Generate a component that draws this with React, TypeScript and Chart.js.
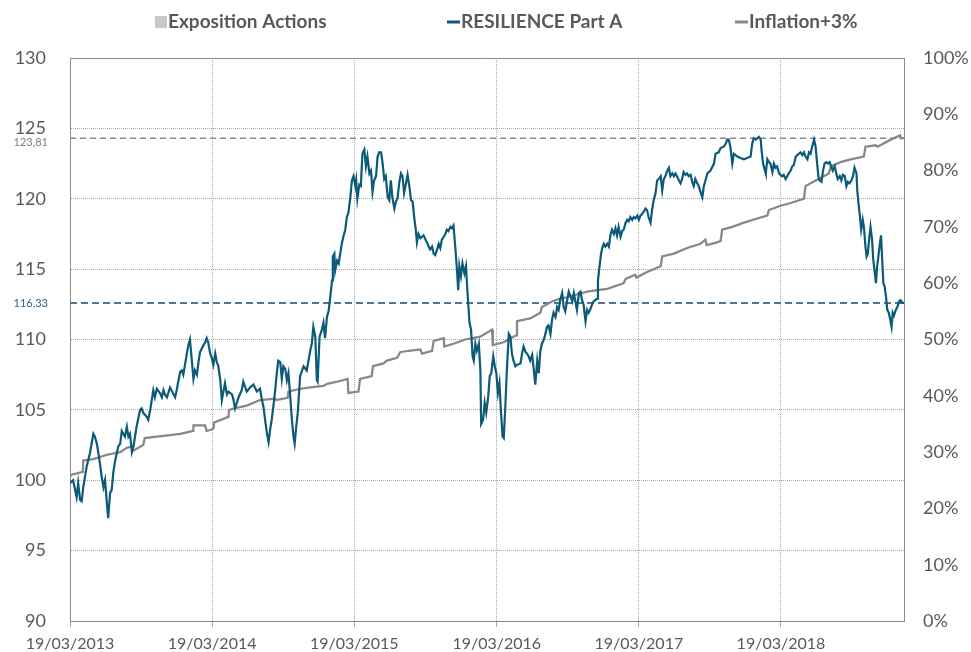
import { useEffect, useRef } from "react";
import { Chart, registerables } from "chart.js";

Chart.register(...registerables);

// x values are days since 19/03/2013
const tickDays = [0, 365, 730, 1096, 1461, 1826];
const tickLabels = ["19/03/2013", "19/03/2014", "19/03/2015", "19/03/2016", "19/03/2017", "19/03/2018"];

const seriesLabels = ["Exposition Actions", "RESILIENCE Part A", "Inflation+3%"];
const refLabels = ["123,81", "116,33"];

const expositionPoints: [number, number][] = [];

const resiliencePoints: [number, number][] = [
  [0, 99.8], [8, 100.0], [17, 98.8], [21, 99.8], [26, 98.6], [30, 98.5], [34, 99.5], [43, 101.0],
  [51, 101.9], [60, 103.3], [64, 103.1], [69, 102.6], [77, 101.2], [81, 100.3], [86, 99.5], [90, 100.0],
  [94, 98.6], [98, 97.3], [103, 99.1], [107, 99.3], [111, 100.5], [116, 101.4], [124, 102.4], [129, 102.6],
  [133, 103.5], [137, 103.3], [141, 103.1], [146, 103.8], [150, 103.1], [154, 103.3], [159, 102.0], [163, 102.4],
  [171, 103.8], [180, 105.0], [184, 105.1], [188, 104.8], [197, 104.5], [201, 104.3], [206, 105.0], [210, 105.7],
  [214, 106.4], [218, 105.9], [223, 106.5], [231, 106.2], [236, 105.9], [240, 106.4], [244, 106.1], [249, 105.9],
  [257, 106.6], [266, 106.1], [270, 105.9], [274, 106.4], [278, 107.0], [283, 107.7], [287, 107.8], [291, 107.5],
  [296, 108.3], [300, 109.0], [304, 109.6], [308, 110.0], [313, 108.5], [317, 107.2], [321, 107.8], [326, 107.5],
  [330, 108.4], [334, 109.1], [339, 109.4], [343, 109.6], [347, 109.8], [351, 110.1], [355, 109.8], [360, 109.0],
  [364, 108.7], [368, 108.2], [373, 109.0], [377, 108.4], [381, 108.1], [386, 107.1], [390, 105.7], [394, 106.3],
  [398, 106.9], [403, 106.1], [407, 106.3], [416, 106.1], [420, 105.7], [424, 105.1], [433, 105.9], [441, 106.4],
  [445, 107.0], [454, 106.3], [463, 106.6], [471, 106.8], [480, 106.3], [488, 106.5], [493, 105.7], [497, 105.2],
  [501, 104.3], [506, 103.3], [510, 102.7], [514, 103.6], [518, 104.3], [523, 105.4], [527, 106.4], [531, 107.6],
  [535, 108.5], [540, 108.4], [544, 107.2], [548, 108.1], [553, 107.9], [557, 107.1], [561, 107.6], [565, 106.2],
  [570, 104.3], [574, 103.1], [577, 102.6], [581, 103.8], [585, 104.8], [591, 107.4], [600, 108.1], [608, 107.8],
  [617, 109.2], [621, 109.7], [625, 110.9], [630, 110.2], [634, 107.1], [636, 107.0], [641, 110.2], [647, 110.7],
  [651, 111.2], [655, 110.1], [660, 111.6], [664, 112.0], [668, 112.9], [673, 114.2], [675, 115.9], [679, 116.1],
  [681, 114.9], [686, 115.6], [690, 115.4], [694, 116.1], [698, 116.8], [702, 117.3], [707, 117.8], [711, 118.7],
  [715, 119.0], [720, 120.1], [724, 121.3], [728, 121.6], [733, 120.9], [735, 121.3], [738, 120.0], [743, 121.0],
  [747, 120.9], [751, 123.2], [756, 123.5], [760, 122.3], [764, 123.0], [769, 121.8], [773, 122.0], [777, 120.5],
  [781, 121.3], [786, 121.6], [790, 123.0], [794, 123.3], [799, 123.3], [803, 122.5], [807, 121.4], [811, 121.6],
  [816, 120.1], [820, 119.9], [824, 121.3], [828, 120.1], [833, 119.3], [837, 119.8], [841, 120.0], [846, 121.2],
  [850, 121.8], [854, 121.6], [858, 120.4], [863, 121.1], [867, 121.7], [871, 121.0], [876, 119.9], [880, 119.8],
  [884, 118.7], [888, 117.8], [891, 116.9], [895, 117.5], [900, 117.2], [904, 117.3], [908, 117.4], [913, 117.1],
  [917, 116.9], [921, 116.6], [925, 116.4], [930, 116.6], [934, 116.1], [938, 116.0], [943, 116.4], [947, 116.8],
  [951, 116.5], [955, 117.1], [960, 117.3], [964, 117.5], [968, 117.8], [972, 117.7], [977, 118.0], [981, 117.9],
  [985, 118.1], [990, 116.4], [994, 114.9], [997, 113.5], [1000, 115.2], [1004, 114.5], [1008, 115.4], [1013, 114.7],
  [1017, 115.2], [1021, 113.3], [1026, 111.2], [1030, 110.7], [1034, 108.8], [1037, 108.5], [1041, 109.7], [1045, 109.2],
  [1050, 109.7], [1054, 107.8], [1056, 104.0], [1061, 104.3], [1065, 105.5], [1069, 104.8], [1074, 105.9], [1078, 107.4],
  [1082, 107.6], [1087, 108.8], [1091, 108.1], [1095, 107.6], [1099, 106.2], [1103, 106.9], [1107, 104.8], [1111, 103.1],
  [1114, 103.0], [1118, 105.2], [1122, 107.8], [1127, 110.4], [1131, 110.2], [1135, 109.0], [1139, 108.5], [1144, 108.1],
  [1148, 108.2], [1157, 108.3], [1161, 109.0], [1165, 109.5], [1170, 109.1], [1174, 109.0], [1178, 108.8], [1182, 108.5],
  [1187, 108.9], [1191, 107.9], [1195, 106.8], [1200, 108.5], [1204, 107.6], [1208, 109.2], [1212, 109.7], [1217, 110.0],
  [1221, 110.4], [1225, 110.9], [1229, 111.0], [1234, 110.4], [1238, 111.4], [1242, 111.9], [1247, 111.6], [1251, 112.3],
  [1255, 112.1], [1259, 112.8], [1264, 113.3], [1268, 112.3], [1272, 112.0], [1277, 112.8], [1281, 113.4], [1285, 113.1],
  [1290, 112.7], [1294, 113.3], [1298, 112.7], [1302, 112.1], [1307, 113.3], [1311, 113.4], [1315, 112.8], [1319, 112.5],
  [1324, 111.3], [1328, 112.1], [1332, 111.9], [1337, 112.2], [1341, 112.5], [1345, 112.7], [1349, 112.8], [1354, 112.9],
  [1356, 114.2], [1360, 115.2], [1364, 116.1], [1367, 116.5], [1371, 116.8], [1375, 116.6], [1380, 116.8], [1384, 116.6],
  [1388, 117.4], [1392, 117.8], [1397, 117.5], [1401, 117.9], [1405, 117.4], [1409, 118.0], [1414, 117.3], [1418, 117.7],
  [1422, 117.8], [1427, 118.3], [1431, 118.5], [1435, 118.4], [1439, 118.7], [1444, 118.5], [1448, 118.7], [1452, 118.6],
  [1457, 118.8], [1461, 118.5], [1465, 118.8], [1469, 118.9], [1474, 119.1], [1478, 119.3], [1482, 119.2], [1486, 118.7],
  [1491, 118.3], [1495, 119.2], [1499, 119.9], [1504, 120.4], [1508, 121.3], [1512, 121.4], [1517, 121.6], [1521, 120.6],
  [1525, 121.4], [1529, 121.6], [1534, 122.0], [1538, 122.2], [1542, 121.6], [1547, 121.8], [1551, 121.6], [1555, 121.8],
  [1559, 121.6], [1564, 121.3], [1568, 121.1], [1572, 121.4], [1576, 121.9], [1581, 121.7], [1585, 121.8], [1589, 121.6],
  [1594, 121.7], [1598, 121.2], [1602, 120.9], [1606, 121.4], [1611, 121.1], [1615, 120.9], [1619, 120.5], [1624, 120.1],
  [1628, 120.9], [1632, 121.3], [1637, 121.8], [1645, 122.0], [1654, 122.5], [1658, 123.2], [1666, 123.3], [1671, 123.6],
  [1679, 123.7], [1684, 123.9], [1688, 124.2], [1692, 124.2], [1696, 123.7], [1701, 122.5], [1705, 123.2], [1714, 123.0],
  [1722, 122.9], [1731, 122.8], [1739, 122.9], [1748, 123.0], [1752, 123.9], [1756, 124.3], [1761, 124.2], [1765, 124.3],
  [1769, 124.4], [1774, 124.2], [1776, 123.5], [1780, 122.5], [1785, 122.0], [1787, 121.8], [1791, 122.8], [1795, 122.6],
  [1799, 122.5], [1804, 121.9], [1808, 122.5], [1812, 122.2], [1816, 122.3], [1821, 121.8], [1825, 121.7], [1829, 121.6],
  [1833, 121.7], [1838, 121.4], [1842, 121.6], [1846, 121.8], [1851, 122.0], [1855, 122.3], [1859, 122.4], [1864, 123.0],
  [1868, 123.1], [1872, 123.2], [1876, 123.3], [1881, 123.1], [1885, 123.3], [1889, 123.0], [1894, 122.8], [1898, 123.3],
  [1902, 123.2], [1906, 123.7], [1911, 124.2], [1915, 123.7], [1919, 122.5], [1922, 121.6], [1925, 121.3], [1930, 121.2],
  [1934, 122.0], [1938, 122.5], [1942, 122.6], [1947, 122.5], [1951, 122.6], [1955, 122.3], [1959, 122.0], [1964, 122.3],
  [1968, 121.8], [1972, 121.4], [1977, 121.6], [1981, 121.3], [1985, 121.7], [1990, 121.6], [1994, 120.9], [1998, 121.2],
  [2002, 121.1], [2007, 121.3], [2011, 121.6], [2015, 122.2], [2020, 121.8], [2022, 120.6], [2025, 119.7], [2029, 118.7],
  [2032, 117.8], [2036, 118.5], [2039, 118.0], [2043, 116.6], [2046, 115.9], [2049, 116.1], [2053, 117.3], [2056, 118.0],
  [2060, 117.1], [2063, 115.7], [2067, 114.7], [2070, 114.0], [2073, 115.2], [2077, 116.1], [2080, 116.8], [2083, 117.4],
  [2086, 115.7], [2089, 114.0], [2092, 113.8], [2096, 113.0], [2099, 112.1], [2103, 111.9], [2106, 111.5], [2110, 110.9],
  [2113, 111.9], [2116, 111.7], [2121, 112.1], [2125, 112.3], [2129, 112.7], [2133, 112.8], [2138, 112.6], [2142, 112.6],
];

const inflationPoints: [number, number][] = [
  [0, 100.25], [4, 100.4], [33, 100.6], [34, 101.4], [60, 101.5], [77, 101.65], [94, 101.8], [111, 101.9],
  [129, 102.0], [146, 102.3], [159, 102.4], [163, 102.1], [188, 102.5], [192, 103.0], [223, 103.1], [257, 103.2],
  [283, 103.3], [316, 103.5], [317, 103.9], [347, 103.9], [351, 103.5], [364, 103.6], [369, 103.7], [370, 104.1],
  [407, 104.5], [409, 105.0], [420, 105.1], [454, 105.3], [488, 105.7], [527, 105.8], [530, 105.7], [559, 105.85],
  [561, 106.3], [591, 106.5], [617, 106.6], [651, 106.7], [660, 106.85], [686, 107.0], [713, 107.2], [715, 106.2],
  [741, 106.3], [745, 107.2], [775, 107.4], [778, 108.1], [805, 108.3], [814, 108.5], [840, 108.7], [848, 109.1],
  [870, 109.2], [900, 109.3], [904, 109.0], [930, 109.2], [934, 109.9], [960, 110.1], [961, 109.5], [985, 109.7],
  [1015, 110.0], [1054, 110.2], [1084, 110.7], [1086, 109.6], [1114, 109.8], [1139, 110.2], [1146, 110.3], [1148, 111.3],
  [1182, 111.5], [1208, 111.9], [1212, 112.3], [1238, 112.7], [1259, 112.9], [1277, 113.0], [1302, 113.2], [1328, 113.4],
  [1354, 113.5], [1380, 113.6], [1422, 114.0], [1427, 114.3], [1452, 114.6], [1455, 114.4], [1482, 114.8], [1517, 115.2],
  [1521, 115.9], [1551, 116.1], [1585, 116.5], [1619, 116.8], [1632, 117.1], [1635, 116.7], [1662, 116.9], [1671, 117.0],
  [1675, 117.8], [1701, 118.0], [1731, 118.3], [1765, 118.6], [1791, 118.8], [1795, 119.2], [1825, 119.5], [1851, 119.7],
  [1885, 120.0], [1889, 120.9], [1915, 121.3], [1949, 121.8], [1954, 122.3], [1979, 122.6], [2005, 122.8], [2039, 123.0],
  [2043, 123.7], [2069, 123.8], [2074, 123.7], [2108, 124.2], [2132, 124.5], [2133, 124.3], [2142, 124.3],
];

const leftMin = 90;
const leftMax = 130;
const leftStep = 5;
const rightMin = 0;
const rightMax = 100;
const rightStep = 10;

const COLORS = {
  exposition: "#c8c8c8",
  resilience: "#0b5a78",
  inflation: "#878787",
  refGrey: "#8a8a8a",
  refBlue: "#4f7595",
  text: "#595959",
  grid: "#a8a8a8",
  frame: "#8c8c8c",
};

const toXY = (pts: [number, number][]) => pts.map(([x, y]) => ({ x, y }));

export default function App() {
  const canvasRef = useRef<HTMLCanvasElement | null>(null);

  useEffect(() => {
    if (!canvasRef.current) return;
    const xMax = resiliencePoints[resiliencePoints.length - 1][0];
    const inflLast = inflationPoints[inflationPoints.length - 1][1];
    const resLast = resiliencePoints[resiliencePoints.length - 1][1];

    const legendPlugin = {
      id: "customLegend",
      afterDraw(chart: any) {
        const ctx = chart.ctx;
        const startX = [155, 447, 735];
        const y = 22;
        ctx.save();
        ctx.font = "bold 19px Lato";
        ctx.textBaseline = "middle";
        ctx.textAlign = "left";
        let k = 0;
        chart.data.datasets.forEach((ds: any) => {
          if (!ds.legendMarker) return;
          let x = startX[k++];
          if (ds.legendMarker === "rect") {
            ctx.fillStyle = ds.backgroundColor;
            ctx.fillRect(x, y - 6, 12, 12);
            x += 13;
          } else {
            ctx.strokeStyle = ds.borderColor;
            ctx.lineWidth = 3;
            ctx.beginPath();
            ctx.moveTo(x, y);
            ctx.lineTo(x + 13, y);
            ctx.stroke();
            x += 14;
          }
          ctx.fillStyle = COLORS.text;
          ctx.fillText(ds.label, x, y);
        });
        ctx.restore();
      },
    };

    const refLabelPlugin = {
      id: "refLabels",
      afterDraw(chart: any) {
        const ctx = chart.ctx;
        const ys = chart.scales.y;
        ctx.save();
        ctx.font = "11px Lato";
        ctx.textAlign = "right";
        ctx.textBaseline = "middle";
        ctx.fillStyle = "#7f7f7f";
        ctx.fillText(refLabels[0], 48, ys.getPixelForValue(inflLast) + 4);
        ctx.fillStyle = "#2e6189";
        ctx.fillText(refLabels[1], 48, ys.getPixelForValue(resLast) + 1);
        ctx.restore();
      },
    };

    const isFrame = (v: number) => v === leftMin || v === leftMax;

    const chart = new Chart(canvasRef.current, {
      type: "line",
      data: {
        datasets: [
          {
            type: "bar",
            label: seriesLabels[0],
            data: toXY(expositionPoints),
            backgroundColor: COLORS.exposition,
            yAxisID: "y1",
            legendMarker: "rect",
            order: 5,
          } as any,
          {
            label: seriesLabels[1],
            data: toXY(resiliencePoints),
            borderColor: COLORS.resilience,
            backgroundColor: COLORS.resilience,
            borderWidth: 2.2,
            pointRadius: 0,
            tension: 0,
            yAxisID: "y",
            legendMarker: "line",
            order: 1,
          } as any,
          {
            label: seriesLabels[2],
            data: toXY(inflationPoints),
            borderColor: COLORS.inflation,
            backgroundColor: COLORS.inflation,
            borderWidth: 2.25,
            pointRadius: 0,
            tension: 0,
            yAxisID: "y",
            legendMarker: "line",
            order: 2,
          } as any,
          {
            label: "ref-inflation",
            data: [{ x: 0, y: inflLast }, { x: xMax, y: inflLast }],
            borderColor: COLORS.refGrey,
            borderWidth: 1.3,
            borderDash: [6, 4],
            pointRadius: 0,
            yAxisID: "y",
            order: 4,
          },
          {
            label: "ref-resilience",
            data: [{ x: 0, y: resLast }, { x: xMax, y: resLast }],
            borderColor: COLORS.refBlue,
            borderWidth: 2,
            borderDash: [7, 4],
            pointRadius: 0,
            yAxisID: "y",
            order: 3,
          },
        ],
      },
      options: {
        animation: false,
        responsive: true,
        maintainAspectRatio: false,
        devicePixelRatio: 1,
        layout: { padding: { top: 58, left: 0, right: 0, bottom: 0 } },
        plugins: {
          legend: { display: false },
          tooltip: { enabled: false },
        },
        scales: {
          x: {
            type: "linear",
            offset: false,
            min: 0,
            max: xMax,
            afterBuildTicks: (s: any) => {
              s.ticks = tickDays.map((v) => ({ value: v }));
            },
            afterFit: (s: any) => {
              s.height = 31;
              s.paddingLeft = 0;
              s.paddingRight = 0;
            },
            ticks: {
              callback: (_v: any, i: number) => tickLabels[i],
              autoSkip: false,
              maxRotation: 0,
              padding: 7,
              color: COLORS.text,
              font: { family: "Lato", size: 16 },
            },
            grid: {
              offset: false,
              color: COLORS.grid,
              lineWidth: 1,
              drawTicks: true,
              tickLength: 6,
              tickColor: COLORS.grid,
            },
            border: { display: true, color: COLORS.frame, width: 1, dash: [1, 1] },
          },
          y: {
            position: "left",
            min: leftMin,
            max: leftMax,
            afterFit: (s: any) => {
              s.width = 70;
              s.paddingTop = 0;
              s.paddingBottom = 0;
            },
            ticks: {
              stepSize: leftStep,
              padding: 24,
              color: COLORS.text,
              font: { family: "Lato", size: 18 },
            },
            grid: {
              drawTicks: false,
              lineWidth: 1,
              color: (c: any) => (c.tick && isFrame(c.tick.value) ? COLORS.frame : COLORS.grid),
            },
            border: {
              display: true,
              color: COLORS.frame,
              width: 1,
              dash: (c: any) => (c.tick && isFrame(c.tick.value) ? [] : [1, 1]),
            },
          } as any,
          y1: {
            position: "right",
            min: rightMin,
            max: rightMax,
            afterFit: (s: any) => {
              s.width = 67;
              s.paddingTop = 0;
              s.paddingBottom = 0;
            },
            ticks: {
              stepSize: rightStep,
              padding: 19,
              color: COLORS.text,
              font: { family: "Lato", size: 18 },
              callback: (v: any) => `${v}%`,
            },
            grid: { display: false, drawTicks: false },
            border: { display: true, color: COLORS.frame, width: 1 },
          },
        },
      },
      plugins: [legendPlugin, refLabelPlugin],
    } as any);

    return () => chart.destroy();
  }, []);

  return (
    <div style={{ position: "fixed", left: 0, top: 0, width: 971, height: 652 }}>
      <canvas ref={canvasRef} />
    </div>
  );
}
